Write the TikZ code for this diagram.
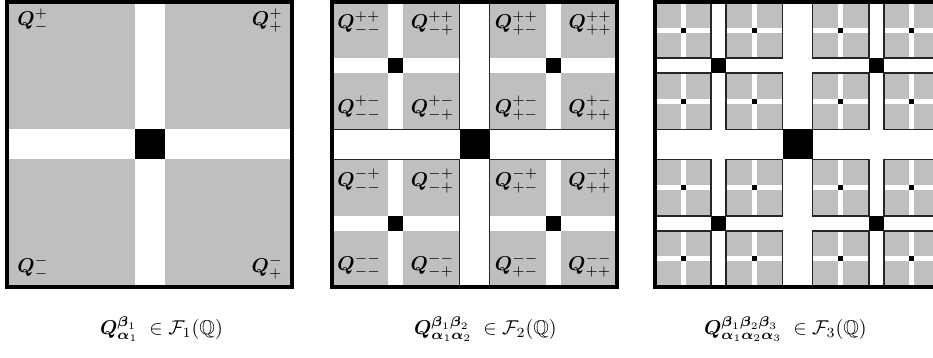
\documentclass[tikz,border=0pt]{standalone}
\usepackage{amsmath, amssymb}
\usepackage{xcolor}
\usepackage{tikz}
\usetikzlibrary{positioning}

\definecolor{cubegray}{gray}{0.75}

% white cross with black centre: centre x, centre y, half side, half width
\newcommand{\crossat}[4]{%
  \fill[white] ({#1-#4},{#2-#3}) rectangle ({#1+#4},{#2+#3});
  \fill[white] ({#1-#3},{#2-#4}) rectangle ({#1+#3},{#2+#4});
  \fill[black] ({#1-#4},{#2-#4}) rectangle ({#1+#4},{#2+#4});
}

\begin{document}
\begin{tikzpicture}[x=0.5pt, y=-0.5pt,
    frame/.style={line width=1.8pt},
    cubeline/.style={line width=0.8pt, black!85},
    lab/.style={inner sep=0pt}]
    \useasboundingbox (0,0) rectangle (933,358);
    \clip (0,0) rectangle (933,358);

    % F_1
    \fill[cubegray] (7,2) rectangle (292,287);
    \crossat{149.5}{144.5}{142.5}{15}
    \draw[frame] (7,2) rectangle (292,287);
    \node[lab, anchor=north west] (qa) at (17,8) {$\boldsymbol{Q}^{+}_{-}$};
    \node[lab, anchor=north east] (qb) at (283,8) {$\boldsymbol{Q}^{+}_{+}$};
    \node[lab, anchor=south west] (qc) at (17,280) {$\boldsymbol{Q}^{-}_{-}$};
    \node[lab, anchor=south east] (qd) at (283,280) {$\boldsymbol{Q}^{-}_{+}$};

    % F_2
    \fill[cubegray] (332,2) rectangle (617,287);
    \crossat{474.5}{144.5}{142.5}{15}
    \foreach \qx/\qxs in {-1/-,1/+}
      \foreach \qy/\qys in {1/+,-1/-} {
        \pgfmathsetmacro\qcx{474.5+\qx*78.75}
        \pgfmathsetmacro\qcy{144.5-\qy*78.75}
        \crossat{\qcx}{\qcy}{63.75}{7.5}
        \draw[cubeline] ({\qcx-63.75},{\qcy-63.75}) rectangle ({\qcx+63.75},{\qcy+63.75});
        \foreach \sx/\sy/\sxs/\sys/\an in {-1/1/-/+/north west, 1/1/+/+/north east,
            -1/-1/-/-/south west, 1/-1/+/-/south east} {
          \pgfmathsetmacro\lx{\qcx+\sx*35.625+\sx*23.125}
          \pgfmathsetmacro\ly{\qcy-\sy*35.625-\sy*19.125}
          \node[lab, anchor=\an] (q\qxs\sxs\qys\sys) at (\lx,\ly)
            {$\boldsymbol{Q}^{\qys\sys}_{\qxs\sxs}$};
        }
      }
    \draw[frame] (332,2) rectangle (617,287);

    % F_3
    \fill[cubegray] (655,2) rectangle (940,287);
    \crossat{797.5}{144.5}{142.5}{15}
    \foreach \qx in {-1,1}
      \foreach \qy in {-1,1} {
        \pgfmathsetmacro\qcx{797.5+\qx*78.75}
        \pgfmathsetmacro\qcy{144.5+\qy*78.75}
        \crossat{\qcx}{\qcy}{63.75}{7.5}
        \foreach \sx in {-1,1}
          \foreach \sy in {-1,1} {
            \pgfmathsetmacro\scx{\qcx+\sx*35.625}
            \pgfmathsetmacro\scy{\qcy+\sy*35.625}
            \crossat{\scx}{\scy}{28.125}{2.5}
            \draw[cubeline] ({\scx-28.125},{\scy-28.125}) rectangle ({\scx+28.125},{\scy+28.125});
          }
      }
    \draw[frame] (655,2) rectangle (940,287);

    % captions
    \node[anchor=base west] (cap1) at (93,335)
      {$\boldsymbol{Q}^{\boldsymbol{\beta}_1}_{\boldsymbol{\alpha}_1}\;\in\mathcal{F}_1(\mathbb{Q})$};
    \node[anchor=base west] (cap2) at (407,335)
      {$\boldsymbol{Q}^{\boldsymbol{\beta}_1\boldsymbol{\beta}_2}_{\boldsymbol{\alpha}_1\boldsymbol{\alpha}_2}\;\in\mathcal{F}_2(\mathbb{Q})$};
    \node[anchor=base west] (cap3) at (697,335)
      {$\boldsymbol{Q}^{\boldsymbol{\beta}_1\boldsymbol{\beta}_2\boldsymbol{\beta}_3}_{\boldsymbol{\alpha}_1\boldsymbol{\alpha}_2\boldsymbol{\alpha}_3}\;\in\mathcal{F}_3(\mathbb{Q})$};
  \end{tikzpicture}
\end{document}
